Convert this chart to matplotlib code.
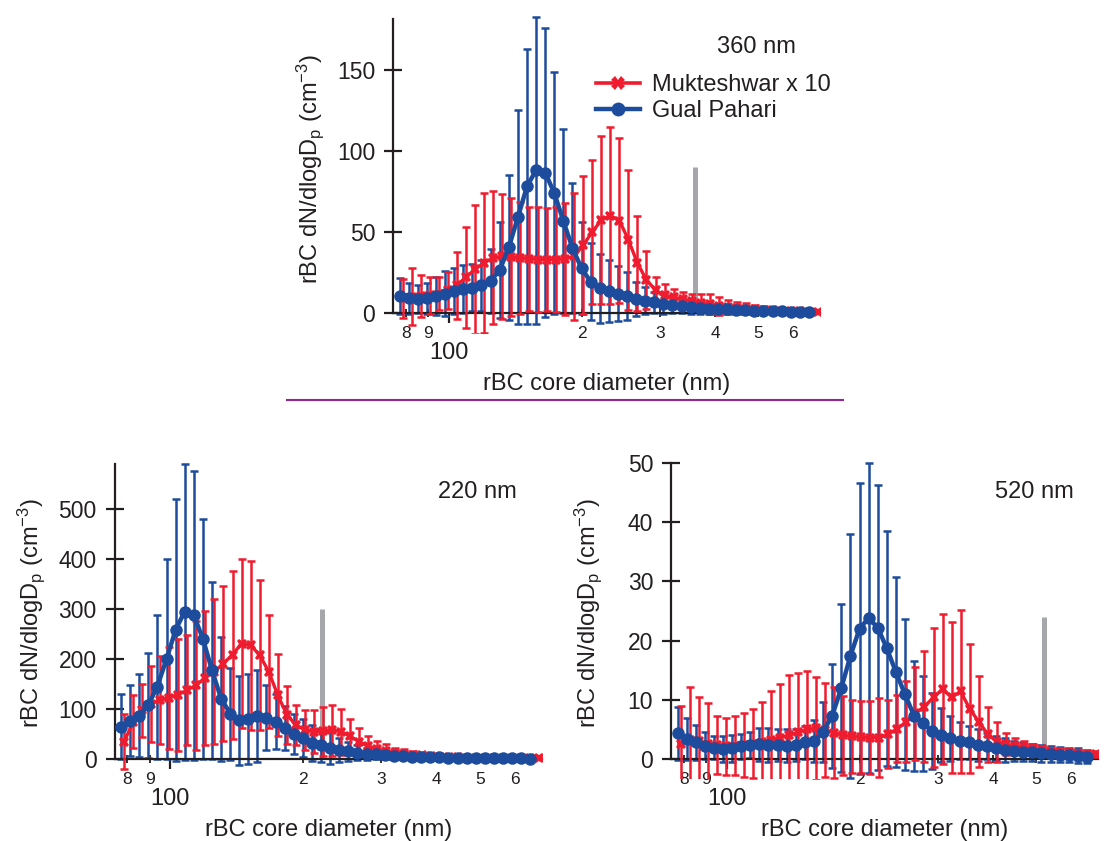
import matplotlib.pyplot as plt
from matplotlib.lines import Line2D

plt.rcParams['font.family'] = ['Liberation Sans', 'DejaVu Sans']
plt.rcParams['mathtext.default'] = 'regular'

# диаметры бинов (нм)
dp_gp = [77.5, 81.2, 85.2, 89.3, 93.6, 98.2, 102.9, 107.9, 113.1, 118.6, 124.3, 130.4, 136.7, 143.3,
         150.2, 157.5, 165.1, 173.1, 181.5, 190.3, 199.5, 209.1, 219.3, 229.9, 241.0, 252.7, 264.9,
         277.7, 291.2, 305.3, 320.0, 335.5, 351.8, 368.8, 386.6, 405.4, 425.0, 445.6, 467.2, 489.8,
         513.5, 538.4, 564.4, 591.8, 620.4, 650.5]
dp_mk = [78.8, 82.6, 86.5, 90.7, 95.1, 99.6, 104.4, 109.4, 114.7, 120.2, 126.0, 132.0, 138.4, 145.0,
         152.0, 159.3, 167.0, 175.0, 183.4, 192.1, 201.4, 211.0, 221.2, 231.8, 242.9, 254.6, 266.8,
         279.6, 293.1, 307.1, 321.9, 337.4, 353.6, 370.6, 388.3, 407.0, 426.6, 447.0, 468.5, 491.0,
         514.6, 539.3, 565.2, 592.4, 620.8, 650.6, 682.0]

# 360 nm
gp_360 = [10.5, 9, 8.4, 9, 10.5, 12, 13.6, 14.8, 15.6, 17, 19.8, 26.5, 40.5, 59, 78, 88, 86.6, 74,
          56.8, 40, 27.6, 19.3, 15.2, 13.6, 12, 10.5, 8.8, 7.6, 6.6, 5.6, 5, 4.3, 3.5, 3.2, 2.8, 2.5,
          2.2, 2.0, 1.7, 1.5, 1.3, 1.1, 1.0, 0.9, 0.8, 0.7]
gp_360_sd = [10.9, 9.3, 8.6, 9.3, 11.5, 14, 14.4, 14.8, 14.4, 16, 19.7, 29.5, 44.5, 66, 85, 94.5, 89,
             74.6, 56.8, 40, 28.4, 23.7, 21.2, 19.4, 17, 14.5, 10.5, 8.4, 6.4, 6.4, 5, 4.1, 4.1, 3.8,
             3.4, 3.0, 2.7, 2.4, 2.2, 1.9, 1.7, 1.5, 1.3, 1.1, 1.0, 0.9]
mk_360 = [9, 10, 10.5, 11, 12, 14, 17, 22, 27, 31, 34, 35, 34.5, 34, 33.5, 33, 33, 33, 33.5, 35, 42,
          50, 57.4, 60, 57, 45, 30.7, 20.4, 14, 11, 9.7, 8.5, 7.5, 6.5, 5.5, 4.5, 3.8, 3.2, 2.7, 2.2,
          1.9, 1.6, 1.4, 1.2, 1.0, 0.9, 0.8]
mk_360_sd = [11.8, 17.5, 13, 11.4, 10.4, 11.5, 20.4, 31, 39.7, 43, 41, 38.5, 36.3, 34.7, 32.1, 32.6,
             31.6, 32.6, 34.5, 39, 42.6, 44.4, 51.6, 54.4, 50.8, 43, 29.3, 18.1, 8.4, 7, 5.3, 4.5,
             4.5, 5.5, 6, 5.5, 4.2, 3.8, 3.3, 2.8, 2.4, 2.1, 1.8, 1.6, 1.4, 1.2, 1.0]

# 220 nm
gp_220 = [65, 77, 87, 108, 145, 200, 258, 295, 288, 241, 178, 121, 91, 78, 81, 86, 83, 75, 63, 51,
          43, 33, 28, 23, 19, 16, 13, 11, 9.3, 8, 7, 6, 5, 4.3, 3.7, 3.2, 2.8, 2.5, 2.2, 2, 1.8, 1.6,
          1.4, 1.2, 1.1, 1.0]
gp_220_sd = [65, 71, 83, 105, 144, 200, 262, 296, 289, 240, 177, 124, 92, 89, 90, 92, 65, 55, 44, 40,
             38, 36, 33, 32, 24, 19, 15, 12, 8.7, 7, 6, 5, 4.5, 3.7, 3.3, 2.8, 2.7, 2.5, 2.3, 2, 1.8,
             1.6, 1.5, 1.4, 1.2, 1.0]
mk_220 = [35, 75, 98, 111, 118, 123, 129, 138, 148, 163, 175, 191, 209, 231, 228, 208, 175, 128, 89,
          69, 58, 55, 56, 58, 55, 46, 35, 26, 20, 16, 13, 11, 9, 7.5, 6, 5, 4, 3.5, 3, 2.5, 2.2, 2,
          1.8, 1.6, 1.5, 1.4, 1.3]
mk_220_sd = [55, 53, 53, 76, 88, 102, 112, 110, 129, 134, 145, 155, 168, 169, 169, 150, 113, 82, 58,
             40, 40, 43, 49, 51, 46, 35, 28, 21, 17, 15, 10, 9, 8, 5.5, 5, 4, 4, 3.5, 3, 2.5, 2.3, 2,
             1.7, 1.4, 1.5, 1.4, 1.2]

# 520 nm
gp_520 = [4.3, 3.4, 2.8, 2.25, 1.9, 1.7, 1.8, 2.1, 2.4, 2.5, 2.4, 2.4, 2.25, 2.4, 2.8, 3.0, 4.6, 7.3,
          12, 17.4, 22, 23.8, 22.2, 18.7, 14.7, 10.9, 7.3, 6.0, 4.7, 4.06, 3.5, 3.1, 2.8, 2.4, 2.1,
          1.8, 1.5, 1.35, 1.24, 1.13, 0.96, 0.85, 0.73, 0.68, 0.56, 0.4]
gp_520_sd = [4.55, 3.6, 2.95, 2.35, 2.0, 2.2, 2.25, 2.1, 2.2, 2.8, 2.9, 2.7, 2.85, 2.7, 2.8, 3.6, 5.1,
             8.8, 14.2, 20.6, 24.6, 26.2, 24.1, 19.9, 16, 12.8, 9.3, 8.1, 6.4, 4.6, 3.8, 3.2, 2.8,
             2.7, 2.2, 2.0, 2.0, 1.65, 1.56, 1.47, 1.44, 1.4, 1.27, 1.22, 1.24, 1.1]
mk_520 = [2.5, 3.2, 3.0, 2.6, 2.3, 2.1, 2.2, 2.4, 2.6, 2.9, 3.2, 3.6, 4.0, 4.5, 5.0, 5.2, 4.9, 4.4,
          4.0, 3.8, 3.7, 3.6, 3.6, 4.2, 5.1, 6.3, 7.7, 8.85, 10.4, 11.8, 10.4, 11.4, 8.5, 6.3, 4.2,
          2.9, 2.5, 2.2, 2.0, 1.8, 1.6, 1.4, 1.2, 1.1, 1.0, 0.9, 0.8]
mk_520_sd = [6.5, 9.0, 7.4, 6.8, 4.9, 4.8, 5.0, 5.4, 5.9, 6.8, 8.3, 9.1, 10.2, 10.0, 9.9, 8.7, 7.9,
             7.7, 6.7, 6.2, 6.1, 6.2, 6.7, 5.8, 5.7, 6.8, 7.9, 9.35, 11.8, 12.7, 12.8, 13.7, 10.9,
             7.7, 4.65, 3.4, 1.9, 1.3, 1.0, 0.8, 0.6, 0.5, 0.6, 0.5, 0.5, 0.5, 0.5]

panel_names = ['360 nm', '220 nm', '520 nm']
cut_dp = [360, 220, 520]
cut_top = [90, 300, 24]
y_ticks = [[0, 50, 100, 150], [0, 100, 200, 300, 400, 500], [0, 10, 20, 30, 40, 50]]
y_top = [181.5, 590, 50]
x_minor = [80, 90, 200, 300, 400, 500, 600]
x_minor_labels = ['8', '9', '2', '3', '4', '5', '6']

red = '#ee1c2e'
blue = '#1d4c9c'
ink = '#231f20'

fig = plt.figure(figsize=(11.07, 8.41), dpi=100)

rects = [[0.3553, 0.6046, 0.3857, 0.3782],
         [0.1036, 0.0737, 0.3857, 0.3775],
         [0.6064, 0.0737, 0.3857, 0.3791]]
ylims = [(-12, 184), (-40, 595), (-3.4, 50.5)]
text_pos = [(0.6474, 0.9445), (0.3959, 0.4153), (0.8988, 0.4153)]
ylab_y = [0.515, 0.524, 0.521]

gp_all = [(gp_360, gp_360_sd), (gp_220, gp_220_sd), (gp_520, gp_520_sd)]
mk_all = [(mk_360, mk_360_sd), (mk_220, mk_220_sd), (mk_520, mk_520_sd)]

for k in range(3):
    ax = fig.add_axes(rects[k])
    gp, gp_sd = gp_all[k]
    mk, mk_sd = mk_all[k]

    # серая метка размера
    ax.plot([cut_dp[k], cut_dp[k]], [0, cut_top[k]], color='#a5a7aa', lw=3.6,
            solid_capstyle='butt', zorder=1)

    ax.errorbar(dp_gp, gp, yerr=gp_sd, fmt='none', ecolor=blue, elinewidth=1.8,
                capsize=3.2, capthick=1.8, zorder=2)
    ax.errorbar(dp_mk, mk, yerr=mk_sd, fmt='none', ecolor=red, elinewidth=1.8,
                capsize=3.2, capthick=1.8, zorder=3)
    ax.plot(dp_mk, mk, color=red, lw=2.4, marker='X', ms=7.5, mew=0, zorder=4)
    ax.plot(dp_gp, gp, color=blue, lw=3.2, marker='o', ms=9, mew=0, zorder=5)

    ax.set_xscale('log')
    ax.set_xlim(75, 690)
    ax.set_ylim(*ylims[k])

    ax.spines['top'].set_visible(False)
    ax.spines['right'].set_visible(False)
    ax.spines['bottom'].set_position(('data', 0))
    ax.spines['left'].set_bounds(0, y_top[k])
    for s in ['left', 'bottom']:
        ax.spines[s].set_linewidth(1.6)
        ax.spines[s].set_color(ink)

    ax.set_xticks([100], ['100'])
    ax.set_xticks(x_minor, x_minor_labels, minor=True)
    ax.set_yticks(y_ticks[k])
    ax.tick_params(axis='x', which='major', direction='out', length=7, width=1.6,
                   labelsize=17, pad=14, colors=ink)
    ax.tick_params(axis='x', which='minor', direction='inout', length=6, width=1.3,
                   labelsize=12.5, pad=6.3, colors=ink)
    ax.tick_params(axis='y', direction='inout', length=13, width=1.6, labelsize=16.5,
                   pad=6.5, colors=ink)

    ax.set_xlabel('rBC core diameter (nm)', fontsize=17, color=ink)
    ax.xaxis.set_label_coords(0.5, -0.126)
    ax.set_ylabel('rBC dN/dlogD$_p$ (cm$^{-3}$)', fontsize=17, color=ink)
    ax.yaxis.set_label_coords(-0.1576, ylab_y[k])

    fig.text(text_pos[k][0], text_pos[k][1], panel_names[k], fontsize=17, color=ink,
             ha='left', va='center')

    if k == 0:
        handles = [Line2D([], [], color=red, lw=2.6, marker='X', ms=10, mew=0),
                   Line2D([], [], color=blue, lw=3.2, marker='o', ms=10, mew=0)]
        fig.legend(handles, ['Mukteshwar x 10', 'Gual Pahari'], loc='upper left',
                   bbox_to_anchor=(596 / 1107, 1 - 74 / 841), frameon=False, fontsize=17,
                   handlelength=1.86, handletextpad=0.5, labelspacing=0.19, borderpad=0,
                   borderaxespad=0, numpoints=1, labelcolor=ink)

# фиолетовая линия-разделитель
fig.add_artist(Line2D([0.2593, 0.7615], [0.5244, 0.5244], color='#92278f', lw=1.5))

plt.savefig('out.png', dpi=100)
